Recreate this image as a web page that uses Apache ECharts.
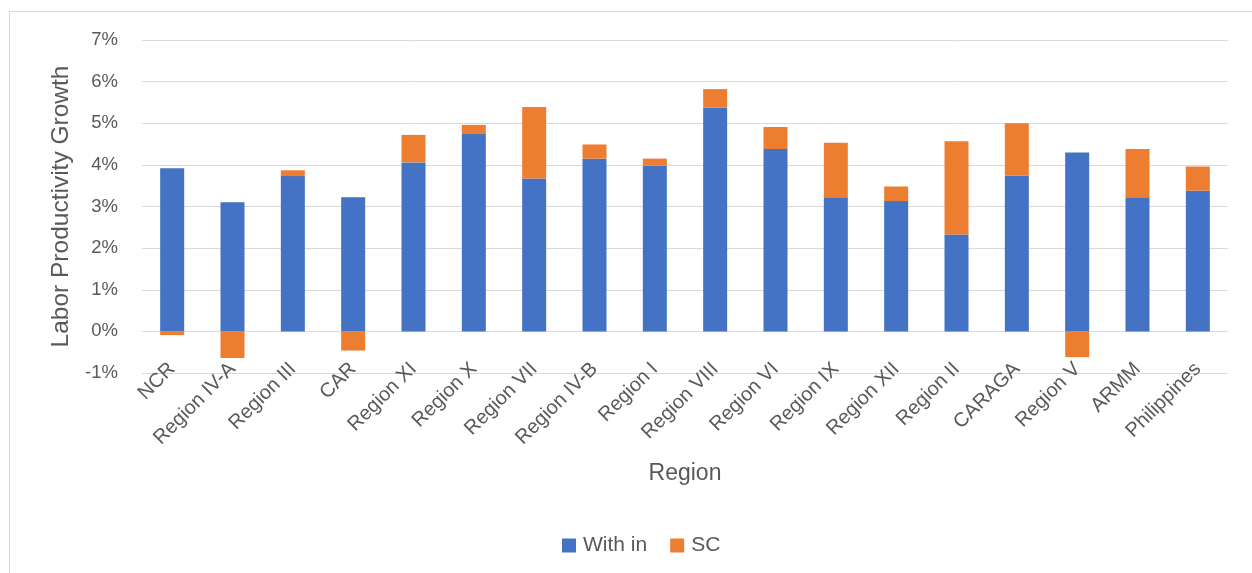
<!DOCTYPE html>
<html>
<head>
<meta charset="utf-8">
<script src="https://cdn.jsdelivr.net/npm/echarts@6/dist/echarts.min.js"></script>
<style>
html,body{margin:0;padding:0;background:#fff;}
#frame{position:absolute;left:9px;top:11px;width:1243px;height:562px;border-left:1px solid #d9d9d9;border-top:1px solid #d9d9d9;box-sizing:border-box;}
#chart{position:absolute;left:0;top:0;width:1252px;height:573px;}
</style>
</head>
<body>
<div id="frame"></div>
<div id="chart"></div>
<script>
const categories = ['NCR','Region IV-A','Region III','CAR','Region XI','Region X','Region VII','Region IV-B','Region I','Region VIII','Region VI','Region IX','Region XII','Region II','CARAGA','Region V','ARMM','Philippines'];
const withIn = [3.92, 3.10, 3.73, 3.22, 4.06, 4.74, 3.67, 4.15, 3.98, 5.38, 4.38, 3.22, 3.13, 2.33, 3.74, 4.30, 3.22, 3.38];
const sc = [-0.09, -0.64, 0.14, -0.46, 0.66, 0.22, 1.72, 0.34, 0.17, 0.44, 0.53, 1.31, 0.35, 2.24, 1.26, -0.62, 1.16, 0.58];
const yMin = -1, yMax = 7, yStep = 1;

const font = 'Liberation Sans, Arial, sans-serif';
const txt = '#595959';
const chart = echarts.init(document.getElementById('chart'));
chart.setOption({
  animation: false,
  textStyle: {fontFamily: font},
  grid: {left: 142, right: 24, top: 40, bottom: 200, containLabel: false},
  legend: {
    left: 557, top: 530, icon: 'rect', itemWidth: 14, itemHeight: 14, itemGap: 23,
    textStyle: {fontSize: 21, color: txt, fontFamily: font, padding: [0, 0, 0, 2]},
    data: ['With in', 'SC']
  },
  xAxis: {
    type: 'category', data: categories,
    axisLine: {show: false, onZero: false},
    axisTick: {show: false},
    axisLabel: {rotate: 45, fontSize: 20, color: txt, margin: -7, interval: 0, fontFamily: font},
    name: 'Region', nameLocation: 'middle', nameGap: 89,
    nameTextStyle: {fontSize: 23, color: txt, fontFamily: font}
  },
  yAxis: {
    type: 'value', min: yMin, max: yMax, interval: yStep,
    axisLine: {show: false}, axisTick: {show: false},
    splitLine: {lineStyle: {color: '#d9d9d9', width: 1}},
    axisLabel: {formatter: '{value}%', fontSize: 18.5, color: txt, margin: 24, fontFamily: font},
    name: 'Labor Productivity Growth', nameLocation: 'middle', nameGap: 68,
    nameTextStyle: {fontSize: 24.5, color: txt, fontFamily: font}
  },
  series: [
    {name: 'With in', type: 'bar', stack: 'total', data: withIn, barWidth: 24,
     itemStyle: {color: '#4472C4'}},
    {name: 'SC', type: 'bar', stack: 'total', data: sc, barWidth: 24,
     itemStyle: {color: '#ED7D31'}}
  ]
});
</script>
</body>
</html>
